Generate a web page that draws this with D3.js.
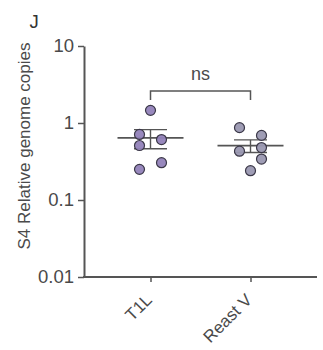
<!DOCTYPE html>
<html>
<head>
<meta charset="utf-8">
<script src="https://cdn.jsdelivr.net/npm/d3@7"></script>
<style>
  body { margin: 0; background: #fff; }
  svg { display: block; font-family: "Liberation Sans", Arial, sans-serif; }
</style>
</head>
<body>
<svg id="chart" width="323" height="350"></svg>
<script>
const groups = ['T1L', 'Reast V'];
const t1lValues = [1.46, 0.71, 0.51, 0.61, 0.305, 0.25];
const reastValues = [0.87, 0.69, 0.43, 0.48, 0.34, 0.24];
// horizontal slot of each dot (-1 left, 0 centre, 1 right)
const t1lJitter = [0, -1, -1, 1, 1, -1];
const reastJitter = [-1, 1, -1, 1, 1, 0];
const yTicks = [0.01, 0.1, 1, 10];
const yTickLabels = ['0.01', '0.1', '1', '10'];

const fills = { 'T1L': '#9282b9', 'Reast V': '#9a98b1' };

const svg = d3.select('#chart');
const mLeft = 84, mRight = 317, mTop = 46, mBottom = 277;

const xScale = d3.scalePoint()
                 .domain(groups)
                 .range([mLeft, mRight])
                 .padding(0.665);

const yScale = d3.scaleLog()
                 .domain([0.01, 10])
                 .range([mBottom, mTop]);

// Y axis
const yAxis = d3.axisLeft(yScale)
                .tickValues(yTicks)
                .tickFormat((d, i) => yTickLabels[i])
                .tickSize(6)
                .tickSizeOuter(0);
const gy = svg.append('g')
              .attr('transform', `translate(${mLeft},0)`)
              .call(yAxis);
gy.select('.domain').attr('stroke', '#555').attr('stroke-width', 2);
gy.selectAll('.tick line').attr('stroke', '#555').attr('stroke-width', 1.5);
gy.selectAll('.tick text')
  .attr('fill', '#4a4a4a')
  .attr('font-size', 18.5)
  .attr('x', -10);

// X axis
const xAxis = d3.axisBottom(xScale)
                .tickSize(5)
                .tickSizeOuter(0);
const gx = svg.append('g')
              .attr('transform', `translate(0,${mBottom})`)
              .call(xAxis);
gx.select('.domain').attr('stroke', '#555').attr('stroke-width', 2)
  .attr('d', `M${mLeft - 1},0H${mRight}`);
gx.selectAll('.tick line').attr('stroke', '#555').attr('stroke-width', 1.5);
gx.selectAll('.tick text')
  .attr('fill', '#4a4a4a')
  .attr('font-size', 17)
  .attr('text-anchor', 'end')
  .attr('dy', null)
  .attr('y', null)
  .attr('transform', 'translate(2,24) rotate(-45)');

// Axis title and panel letter
svg.append('text')
   .attr('transform', `translate(30,146) rotate(-90)`)
   .attr('text-anchor', 'middle')
   .attr('font-size', 17)
   .attr('fill', '#4a4a4a')
   .text('S4 Relative genome copies');

svg.append('text')
   .attr('x', 29.5)
   .attr('y', 28.3)
   .attr('font-size', 18.5)
   .attr('fill', '#333')
   .text('J');

// Mean +/- SEM
const series = [
  { name: 'T1L', values: t1lValues, jitter: t1lJitter },
  { name: 'Reast V', values: reastValues, jitter: reastJitter }
];
const stat = vals => {
  const m = d3.mean(vals);
  const sem = d3.deviation(vals) / Math.sqrt(vals.length);
  return { mean: m, lo: m - sem, hi: m + sem };
};

const lineColor = '#555';
series.forEach(s => {
  const cx = xScale(s.name);
  const st = stat(s.values);
  const g = svg.append('g');
  g.append('line')
   .attr('x1', cx - 33).attr('x2', cx + 33)
   .attr('y1', yScale(st.mean)).attr('y2', yScale(st.mean))
   .attr('stroke', lineColor).attr('stroke-width', 1.6);
  g.append('line')
   .attr('x1', cx).attr('x2', cx)
   .attr('y1', yScale(st.hi)).attr('y2', yScale(st.lo))
   .attr('stroke', lineColor).attr('stroke-width', 1.4);
  [st.hi, st.lo].forEach(v => {
    g.append('line')
     .attr('x1', cx - 16.5).attr('x2', cx + 16.5)
     .attr('y1', yScale(v)).attr('y2', yScale(v))
     .attr('stroke', lineColor).attr('stroke-width', 1.4);
  });
  g.selectAll('circle')
   .data(s.values)
   .join('circle')
   .attr('cx', (d, i) => cx + s.jitter[i] * 11)
   .attr('cy', d => yScale(d))
   .attr('r', 5)
   .attr('fill', fills[s.name])
   .attr('fill-opacity', 0.95)
   .attr('stroke', '#3b3848')
   .attr('stroke-width', 1.2);
});

// significance bracket
const bx1 = xScale('T1L'), bx2 = xScale('Reast V');
const by = 91;
svg.append('path')
   .attr('d', `M${bx1},${by + 9}V${by}H${bx2}V${by + 9}`)
   .attr('fill', 'none')
   .attr('stroke', '#555')
   .attr('stroke-width', 1.5);
svg.append('text')
   .attr('x', (bx1 + bx2) / 2)
   .attr('y', 80)
   .attr('text-anchor', 'middle')
   .attr('font-size', 18)
   .attr('fill', '#4a4a4a')
   .text('ns');
</script>
</body>
</html>
